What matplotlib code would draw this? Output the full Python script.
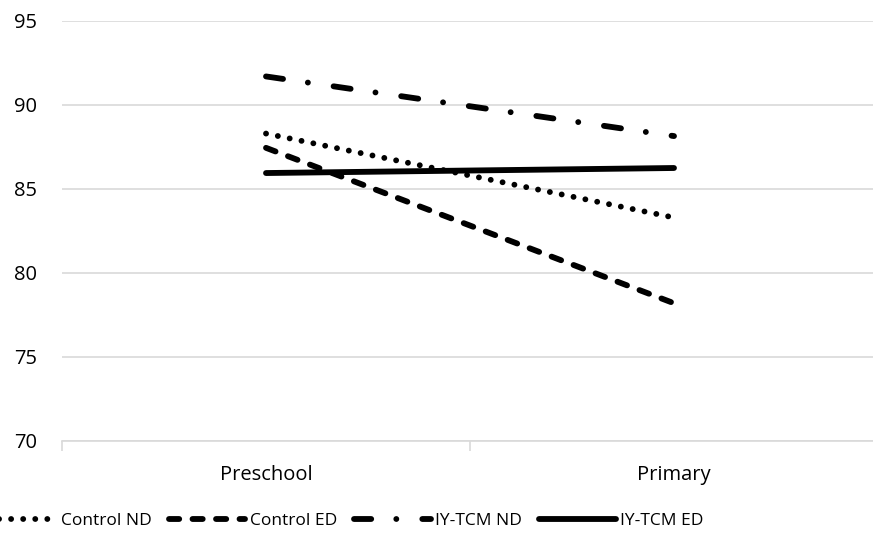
import matplotlib
matplotlib.use("Agg")
import matplotlib.pyplot as plt
import numpy as np

plt.rcParams["font.family"] = ["Open Sans", "DejaVu Sans"]
plt.rcParams["font.size"] = 14.5

categories = ["Preschool", "Primary"]
control_nd = [88.3, 83.3]
control_ed = [87.45, 78.2]
iytcm_nd = [91.7, 88.15]
iytcm_ed = [85.95, 86.25]

fig = plt.figure(figsize=(8.73, 5.39), dpi=100)
ax = fig.add_axes([62/873, 98/539, 816/873, 420/539])

x = np.arange(len(categories))
lw = 4.2
ax.plot(x, control_nd, color="black", lw=lw, dashes=(0.01, 2.06),
        dash_capstyle="round", label="Control ND")
ax.plot(x, control_ed, color="black", lw=lw, dashes=(1.75, 2.28),
        dash_capstyle="round", label="Control ED")
ax.plot(x, iytcm_nd, color="black", lw=lw, dashes=(2.95, 4.3, 0.01, 4.45),
        dash_capstyle="round", label="IY-TCM ND")
ax.plot(x, iytcm_ed, color="black", lw=lw, solid_capstyle="round",
        label="IY-TCM ED")

ax.set_xlim(-0.5, 1.5)
ax.set_ylim(70, 95)
ax.set_yticks(np.arange(70, 96, 5))
ax.yaxis.grid(True, color="#d9d9d9", lw=1.2)
ax.set_axisbelow(True)

ax.set_xticks(x)
ax.set_xticklabels(categories)
ax.set_xticks([-0.5, 0.5, 1.5], minor=True)
ax.tick_params(axis="x", which="major", length=0, pad=17)
ax.tick_params(axis="x", which="minor", length=7, color="#d9d9d9", width=1.2)
ax.tick_params(axis="y", length=0, pad=18)

for s in ["top", "right", "left"]:
    ax.spines[s].set_visible(False)
ax.spines["bottom"].set_color("#d9d9d9")
ax.spines["bottom"].set_linewidth(1.2)

fig.legend(loc="center left", bbox_to_anchor=(-20/873, 18/539), ncol=4,
           frameon=False, handlelength=4.4, handletextpad=0.25,
           columnspacing=1.0, fontsize=12.5, borderaxespad=0, borderpad=0)

fig.savefig("out.png", dpi=100)
